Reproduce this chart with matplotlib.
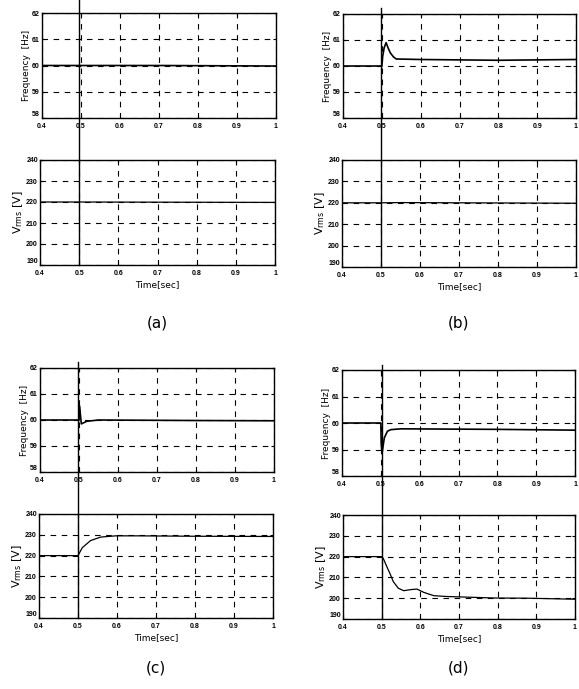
import matplotlib.pyplot as plt
import matplotlib.transforms as mtransforms

# (a)
t_a = [0.4, 0.5, 0.7, 1.0]
freq_a = [60.0, 60.0, 60.0, 59.98]
vrms_t_a = [0.4, 0.5, 1.0]
vrms_a = [220.0, 220.0, 219.8]

# (b)
t_b = [0.4, 0.5, 0.502, 0.506, 0.511, 0.516, 0.522, 0.53, 0.537, 0.6, 0.8, 1.0]
freq_b = [60.0, 60.0, 60.35, 60.7, 60.9, 60.7, 60.5, 60.35, 60.27, 60.25, 60.22, 60.25]
vrms_t_b = [0.4, 0.5, 0.55, 0.7, 1.0]
vrms_b = [220.0, 220.0, 220.1, 220.0, 219.8]

# (c)
t_c = [0.4, 0.5, 0.501, 0.503, 0.506, 0.51, 0.52, 0.55, 0.8, 1.0]
freq_c = [60.0, 60.0, 60.55, 60.3, 59.85, 59.88, 59.95, 60.0, 59.98, 59.97]
vrms_t_c = [0.4, 0.5, 0.511, 0.532, 0.558, 0.597, 0.65, 0.8, 1.0]
vrms_c = [220.0, 220.0, 223.8, 227.2, 228.9, 229.5, 229.5, 229.3, 229.2]

# (d)
t_d = [0.4, 0.5, 0.501, 0.503, 0.509, 0.517, 0.526, 0.552, 0.8, 1.0]
freq_d = [60.0, 60.0, 59.2, 58.85, 59.44, 59.69, 59.75, 59.78, 59.76, 59.73]
vrms_t_d = [0.4, 0.5, 0.504, 0.513, 0.522, 0.53, 0.543, 0.557, 0.574, 0.591,
            0.609, 0.635, 0.67, 0.722, 0.79, 0.878, 1.0]
vrms_d = [220.0, 220.0, 219.2, 215.3, 211.6, 208.0, 204.8, 203.6, 204.1, 204.4,
          202.8, 201.2, 200.8, 200.5, 200.1, 200.0, 199.5]

xticks = [0.4, 0.5, 0.6, 0.7, 0.8, 0.9, 1.0]
xtick_labels = ["0.4", "0.5", "0.6", "0.7", "0.8", "0.9", "1"]
freq_ticks = [58, 59, 60, 61, 62]
vrms_ticks = [190, 200, 210, 220, 230, 240]
panel_labels = ["(a)", "(b)", "(c)", "(d)"]

W, H = 579, 689
fig = plt.figure(figsize=(W / 100, H / 100), dpi=100)


def frac(left, right, top, bottom):
    return [left / W, 1 - bottom / H, (right - left) / W, (bottom - top) / H]


# pixel boxes: (top axes, bottom axes, line top y, label y)
layout = [
    (frac(42, 276, 13, 118), frac(40, 275, 160, 265), 0, 323),
    (frac(343, 576, 14, 118), frac(342, 576, 160, 267), 8, 323),
    (frac(40, 274, 368, 472), frac(39, 273, 514, 618), 362, 668),
    (frac(342, 575, 370, 476), frac(343, 575, 515, 619), 365, 668),
]
panels = [
    (t_a, freq_a, vrms_t_a, vrms_a),
    (t_b, freq_b, vrms_t_b, vrms_b),
    (t_c, freq_c, vrms_t_c, vrms_c),
    (t_d, freq_d, vrms_t_d, vrms_d),
]

tick_font = dict(family="Liberation Sans", size=5, weight="bold")


def style(ax, yticks, ylim):
    ax.set_xlim(0.4, 1.0)
    ax.set_ylim(*ylim)
    ax.set_xticks(xticks)
    ax.set_xticklabels(xtick_labels, fontdict=tick_font)
    ax.set_yticks(yticks)
    ax.set_yticklabels([str(v) for v in yticks], fontdict=tick_font)
    ax.tick_params(direction="in", length=2, width=0.8, top=True, right=True)
    ax.tick_params(axis="x", pad=3.5)
    ax.tick_params(axis="y", pad=1.5)
    # lift the lowest y label a bit so it clears the first x label
    ax.get_yticklabels()[0].set_va("bottom")
    ax.grid(True, color="black", linestyle=(0, (5, 5)), linewidth=0.8)
    for s in ax.spines.values():
        s.set_linewidth(1.0)


for (box_f, box_v, line_top, label_y), (tf, f, tv, v), lab in zip(layout, panels, panel_labels):
    ax_f = fig.add_axes(box_f)
    ax_f.plot(tf, f, color="black", linewidth=1.2)
    style(ax_f, freq_ticks, (58, 62))
    ax_f.set_ylabel("Frequency  [Hz]", fontsize=6.5, labelpad=1)

    ax_v = fig.add_axes(box_v)
    ax_v.plot(tv, v, color="black", linewidth=0.9)
    style(ax_v, vrms_ticks, (190, 240))
    ax_v.set_ylabel(r"V$_{\rm rms}$ [V]", fontsize=8, labelpad=1)
    ax_v.set_xlabel("Time[sec]", fontsize=6.5, labelpad=2)

    # event line at t = 0.5 spanning both plots
    trans = mtransforms.blended_transform_factory(ax_v.transData, fig.transFigure)
    y_bot = box_v[1]
    y_top = 1 - line_top / H
    fig.add_artist(plt.Line2D([0.5, 0.5], [y_bot, y_top], transform=trans,
                              color="black", linewidth=1.0))

    cx = box_v[0] + box_v[2] / 2
    fig.text(cx, 1 - label_y / H, lab, ha="center", va="center", fontsize=11)

fig.savefig("out.png", dpi=100)
